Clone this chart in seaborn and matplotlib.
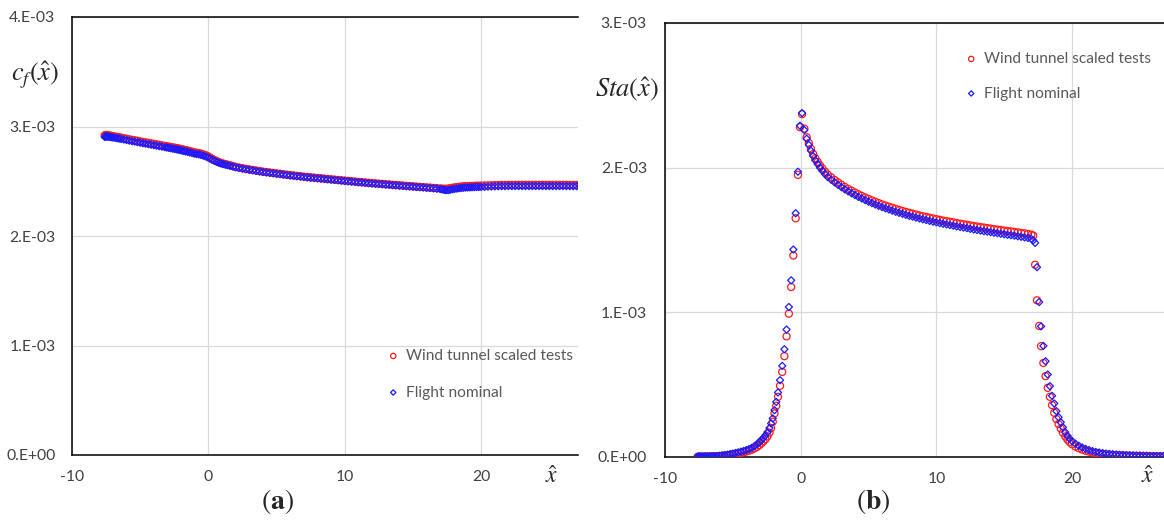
import numpy as np
import pandas as pd
import matplotlib
matplotlib.use("Agg")
import matplotlib.pyplot as plt
import seaborn as sns

# ---------------- data ----------------
x_hat = [
    -7.60, -7.55, -7.50, -7.45, -7.40, -7.30, -7.20, -7.10, -7.00, -6.85,
    -6.70, -6.55, -6.40, -6.20, -6.00, -5.80, -5.60, -5.40, -5.20, -5.00,
    -4.80, -4.60, -4.40, -4.20, -4.00, -3.80, -3.60, -3.40, -3.20, -3.05,
    -2.90, -2.75, -2.60, -2.45, -2.30, -2.18, -2.06, -1.93, -1.80, -1.67,
    -1.52, -1.36, -1.20, -1.04, -0.87, -0.70, -0.54, -0.37, -0.20, -0.05,
    0.10, 0.27, 0.44, 0.60, 0.76, 0.92, 1.08, 1.25, 1.42, 1.60,
    1.80,
    2.00, 2.25, 2.50, 2.75, 3.00, 3.25, 3.50, 3.75, 4.00, 4.25,
    4.50, 4.75, 5.00, 5.25, 5.50, 5.75, 6.00, 6.25, 6.50, 6.75,
    7.00, 7.25, 7.50, 7.75, 8.00, 8.25, 8.50, 8.75, 9.00, 9.25,
    9.50, 9.75, 10.00, 10.25, 10.50, 10.75, 11.00, 11.25, 11.50, 11.75,
    12.00, 12.25, 12.50, 12.75, 13.00, 13.25, 13.50, 13.75, 14.00, 14.25,
    14.50, 14.75, 15.00, 15.25, 15.50, 15.75, 16.00, 16.25, 16.50, 16.75,
    17.00,
    17.14, 17.28, 17.42, 17.58, 17.72, 17.89, 18.05, 18.21, 18.37, 18.53,
    18.69, 18.85, 19.01, 19.17, 19.33, 19.50, 19.66, 19.82,
    20.00, 20.25, 20.50, 20.75, 21.00, 21.25, 21.50, 21.75, 22.00, 22.25,
    22.50, 22.75, 23.00, 23.25, 23.50, 23.75, 24.00, 24.25, 24.50, 24.75,
    25.00, 25.25, 25.50, 25.75, 26.00, 26.25, 26.50, 26.75, 27.00, 27.25,
    27.50, 27.75, 28.00,
]

# skin friction coefficient, units of 1e-3
cf_wind_e3 = [
    2.918, 2.921, 2.922, 2.921, 2.920, 2.918, 2.916, 2.914, 2.911, 2.908,
    2.905, 2.901, 2.898, 2.893, 2.888, 2.883, 2.878, 2.874, 2.869, 2.864,
    2.859, 2.855, 2.850, 2.846, 2.841, 2.837, 2.832, 2.828, 2.823, 2.820,
    2.816, 2.813, 2.809, 2.806, 2.802, 2.799, 2.796, 2.792, 2.788, 2.784,
    2.780, 2.775, 2.770, 2.764, 2.760, 2.757, 2.752, 2.745, 2.738, 2.729,
    2.718, 2.705, 2.694, 2.684, 2.675, 2.668, 2.662, 2.656, 2.651, 2.645,
    2.639,
    2.631, 2.625, 2.619, 2.613, 2.608, 2.603, 2.598, 2.593, 2.588, 2.584,
    2.580, 2.576, 2.572, 2.568, 2.564, 2.560, 2.556, 2.553, 2.549, 2.546,
    2.542, 2.539, 2.536, 2.533, 2.530, 2.527, 2.524, 2.521, 2.518, 2.515,
    2.512, 2.509, 2.506, 2.503, 2.500, 2.497, 2.494, 2.492, 2.489, 2.486,
    2.483, 2.481, 2.478, 2.476, 2.473, 2.471, 2.468, 2.466, 2.463, 2.461,
    2.458, 2.456, 2.454, 2.451, 2.449, 2.447, 2.444, 2.442, 2.439, 2.437,
    2.434,
    2.432, 2.431, 2.431, 2.433, 2.436, 2.440, 2.443, 2.446, 2.449, 2.451,
    2.453, 2.454, 2.455, 2.456, 2.457, 2.458, 2.459, 2.459,
    2.460, 2.461, 2.462, 2.463, 2.464, 2.465, 2.466, 2.466, 2.467, 2.467,
    2.467, 2.467, 2.467, 2.467, 2.467, 2.467, 2.467, 2.467, 2.467, 2.467,
    2.467, 2.467, 2.467, 2.467, 2.467, 2.467, 2.466, 2.466, 2.466, 2.466,
    2.465, 2.465, 2.465,
]
cf_flight_e3 = [
    2.905, 2.908, 2.909, 2.909, 2.908, 2.906, 2.904, 2.902, 2.899, 2.896,
    2.893, 2.889, 2.886, 2.881, 2.876, 2.871, 2.866, 2.862, 2.857, 2.852,
    2.847, 2.843, 2.838, 2.834, 2.829, 2.825, 2.820, 2.816, 2.811, 2.808,
    2.804, 2.801, 2.797, 2.794, 2.790, 2.787, 2.784, 2.780, 2.776, 2.772,
    2.768, 2.763, 2.758, 2.752, 2.748, 2.745, 2.740, 2.733, 2.726, 2.718,
    2.708, 2.696, 2.686, 2.677, 2.669, 2.662, 2.656, 2.651, 2.646, 2.640,
    2.634,
    2.627, 2.621, 2.615, 2.609, 2.604, 2.599, 2.594, 2.589, 2.584, 2.580,
    2.576, 2.572, 2.568, 2.564, 2.560, 2.556, 2.552, 2.549, 2.545, 2.542,
    2.538, 2.535, 2.532, 2.529, 2.526, 2.523, 2.520, 2.517, 2.514, 2.511,
    2.508, 2.505, 2.502, 2.499, 2.496, 2.493, 2.490, 2.488, 2.485, 2.482,
    2.479, 2.477, 2.474, 2.472, 2.469, 2.467, 2.464, 2.462, 2.459, 2.457,
    2.454, 2.452, 2.450, 2.447, 2.445, 2.443, 2.440, 2.438, 2.435, 2.432,
    2.429,
    2.425, 2.421, 2.418, 2.419, 2.422, 2.426, 2.430, 2.433, 2.436, 2.438,
    2.440, 2.442, 2.443, 2.444, 2.445, 2.446, 2.447, 2.447,
    2.448, 2.449, 2.451, 2.452, 2.453, 2.454, 2.455, 2.455, 2.456, 2.456,
    2.456, 2.456, 2.456, 2.456, 2.456, 2.456, 2.456, 2.456, 2.456, 2.456,
    2.456, 2.456, 2.456, 2.456, 2.456, 2.456, 2.455, 2.455, 2.455, 2.455,
    2.454, 2.454, 2.454,
]

# Stanton number, units of 1e-3
sta_wind_e3 = [
    0.001, 0.001, 0.001, 0.001, 0.001, 0.002, 0.002, 0.002, 0.003, 0.003,
    0.003, 0.004, 0.004, 0.005, 0.006, 0.008, 0.010, 0.012, 0.015, 0.018,
    0.021, 0.025, 0.029, 0.033, 0.038, 0.044, 0.051, 0.060, 0.071, 0.082,
    0.095, 0.108, 0.123, 0.143, 0.168, 0.200, 0.243, 0.301, 0.354, 0.416,
    0.492, 0.588, 0.697, 0.834, 0.991, 1.175, 1.393, 1.650, 1.950, 2.280,
    2.370, 2.270, 2.210, 2.170, 2.130, 2.095, 2.065, 2.040, 2.017, 1.995,
    1.972,
    1.952, 1.933, 1.915, 1.898, 1.882, 1.867, 1.853, 1.841, 1.828, 1.816,
    1.805, 1.794, 1.784, 1.774, 1.764, 1.755, 1.746, 1.738, 1.730, 1.723,
    1.715, 1.708, 1.701, 1.694, 1.688, 1.682, 1.676, 1.670, 1.664, 1.659,
    1.654, 1.649, 1.644, 1.639, 1.634, 1.630, 1.626, 1.622, 1.617, 1.613,
    1.609, 1.605, 1.601, 1.597, 1.593, 1.589, 1.586, 1.582, 1.579, 1.575,
    1.572, 1.569, 1.565, 1.562, 1.559, 1.556, 1.553, 1.549, 1.546, 1.542,
    1.537,
    1.530, 1.329, 1.083, 0.906, 0.766, 0.650, 0.559, 0.478, 0.416, 0.359,
    0.306, 0.262, 0.228, 0.197, 0.168, 0.142, 0.121, 0.104,
    0.088, 0.073, 0.061, 0.051, 0.043, 0.037, 0.031, 0.027, 0.023, 0.020,
    0.018, 0.016, 0.014, 0.013, 0.012, 0.011, 0.010, 0.009, 0.009, 0.008,
    0.008, 0.007, 0.007, 0.006, 0.006, 0.006, 0.005, 0.005, 0.005, 0.005,
    0.004, 0.004, 0.004,
]
sta_flight_e3 = [
    0.002, 0.002, 0.002, 0.002, 0.002, 0.003, 0.003, 0.003, 0.004, 0.004,
    0.005, 0.005, 0.006, 0.007, 0.009, 0.011, 0.013, 0.016, 0.020, 0.024,
    0.028, 0.032, 0.037, 0.042, 0.048, 0.055, 0.064, 0.076, 0.090, 0.103,
    0.117, 0.132, 0.150, 0.172, 0.200, 0.232, 0.267, 0.324, 0.381, 0.446,
    0.531, 0.630, 0.745, 0.881, 1.037, 1.221, 1.434, 1.685, 1.972, 2.290,
    2.377, 2.260, 2.200, 2.157, 2.117, 2.080, 2.050, 2.025, 2.000, 1.978,
    1.955,
    1.935, 1.916, 1.898, 1.881, 1.865, 1.850, 1.836, 1.823, 1.810, 1.798,
    1.787, 1.776, 1.765, 1.755, 1.745, 1.736, 1.727, 1.719, 1.711, 1.703,
    1.695, 1.688, 1.681, 1.674, 1.667, 1.661, 1.655, 1.649, 1.643, 1.638,
    1.632, 1.627, 1.622, 1.617, 1.612, 1.608, 1.603, 1.599, 1.594, 1.590,
    1.586, 1.582, 1.577, 1.573, 1.569, 1.565, 1.561, 1.558, 1.554, 1.550,
    1.547, 1.543, 1.540, 1.536, 1.533, 1.530, 1.526, 1.522, 1.518, 1.514,
    1.508,
    1.497, 1.480, 1.312, 1.071, 0.903, 0.768, 0.662, 0.570, 0.490, 0.423,
    0.370, 0.317, 0.275, 0.240, 0.205, 0.172, 0.147, 0.127,
    0.110, 0.092, 0.078, 0.066, 0.056, 0.048, 0.041, 0.035, 0.031, 0.027,
    0.024, 0.021, 0.019, 0.017, 0.015, 0.014, 0.013, 0.012, 0.011, 0.010,
    0.009, 0.009, 0.008, 0.008, 0.007, 0.007, 0.007, 0.006, 0.006, 0.006,
    0.005, 0.005, 0.005,
]

series_labels = ["Wind tunnel scaled tests", "Flight nominal"]
x_ticks = [-10, 0, 10, 20]
x_tick_labels = ["-10", "0", "10", "20"]
cf_ticks = [0.0, 1e-3, 2e-3, 3e-3, 4e-3]
cf_tick_labels = ["0.E+00", "1.E-03", "2.E-03", "3.E-03", "4.E-03"]
sta_ticks = [0.0, 1e-3, 2e-3, 3e-3]
sta_tick_labels = ["0.E+00", "1.E-03", "2.E-03", "3.E-03"]

df = pd.DataFrame({
    "x": x_hat,
    "cf_wind": np.array(cf_wind_e3) * 1e-3,
    "cf_flight": np.array(cf_flight_e3) * 1e-3,
    "sta_wind": np.array(sta_wind_e3) * 1e-3,
    "sta_flight": np.array(sta_flight_e3) * 1e-3,
})

# ---------------- style ----------------
sns.set_theme(style="white")
plt.rcParams["font.family"] = ["Lato", "DejaVu Sans"]
plt.rcParams["mathtext.fontset"] = "stix"

W, H = 1164, 525
fig = plt.figure(figsize=(W / 100, H / 100), dpi=100)


def box(l, t, r, b):
    return [l / W, 1 - b / H, (r - l) / W, (b - t) / H]


ax1 = fig.add_axes(box(72, 17, 578, 455))
ax2 = fig.add_axes(box(665, 23, 1164, 457))

RED = "#FF1A1A"
BLUE = "#1A1AFF"
TICK_C = "#404040"
LEG_C = "#595959"

panels = [
    (ax1, "cf_wind", "cf_flight", (-10, 27.1), (0, 4e-3), cf_ticks, cf_tick_labels, 12,
     (387, 349), 1.45),
    (ax2, "sta_wind", "sta_flight", (-10, 26.78), (0, 3e-3), sta_ticks, sta_tick_labels, 13,
     (965, 52), 1.32),
]

for ax, cw, cfl, xlim, ylim, yt, ytl, ypad, legpos, lsp in panels:
    sns.scatterplot(data=df, x="x", y=cw, ax=ax, marker="o", s=26,
                    facecolor="none", edgecolor=RED, linewidth=0.9,
                    label=series_labels[0], zorder=3)
    sns.scatterplot(data=df, x="x", y=cfl, ax=ax, marker="D", s=13,
                    facecolor="none", edgecolor=BLUE, linewidth=0.9,
                    label=series_labels[1], zorder=3)
    ax.set_xlim(*xlim)
    ax.set_ylim(*ylim)
    ax.set_xticks(x_ticks)
    ax.set_xticklabels(x_tick_labels)
    ax.set_yticks(yt)
    ax.set_yticklabels(ytl)
    ax.set_xlabel("")
    ax.set_ylabel("")
    ax.grid(True, color="#D9D9D9", linewidth=0.9)
    ax.set_axisbelow(True)
    ax.tick_params(axis="both", length=0, labelsize=11.3, labelcolor=TICK_C)
    ax.tick_params(axis="x", pad=11)
    ax.tick_params(axis="y", pad=ypad)
    for s in ["left", "bottom", "top"]:
        ax.spines[s].set_visible(True)
        ax.spines[s].set_color("black")
        ax.spines[s].set_linewidth(1.1)
    ax.spines["right"].set_visible(False)
    leg = ax.legend(loc="upper left",
                    bbox_to_anchor=(legpos[0] / W, 1 - legpos[1] / H),
                    bbox_transform=fig.transFigure, frameon=False,
                    borderpad=0, borderaxespad=0, handlelength=0.8,
                    handletextpad=0.45, labelspacing=lsp, fontsize=11.2,
                    markerscale=0.75, scatterpoints=1)
    for t in leg.get_texts():
        t.set_color(LEG_C)

# axis titles and captions
fig.text(35 / W, 1 - 75 / H, r"$c_f(\hat{x})$", ha="center", va="center", fontsize=19)
fig.text(627 / W, 1 - 90 / H, r"$Sta(\hat{x})$", ha="center", va="center", fontsize=19)
fig.text(552 / W, 1 - 476 / H, r"$\hat{x}$", ha="center", va="center", fontsize=17)
fig.text(1148 / W, 1 - 476 / H, r"$\hat{x}$", ha="center", va="center", fontsize=17)
fig.text(277 / W, 1 - 502 / H, r"$(\mathbf{a})$", ha="center", va="center", fontsize=20)
fig.text(873 / W, 1 - 502 / H, r"$(\mathbf{b})$", ha="center", va="center", fontsize=20)

fig.savefig("out.png", dpi=100)
